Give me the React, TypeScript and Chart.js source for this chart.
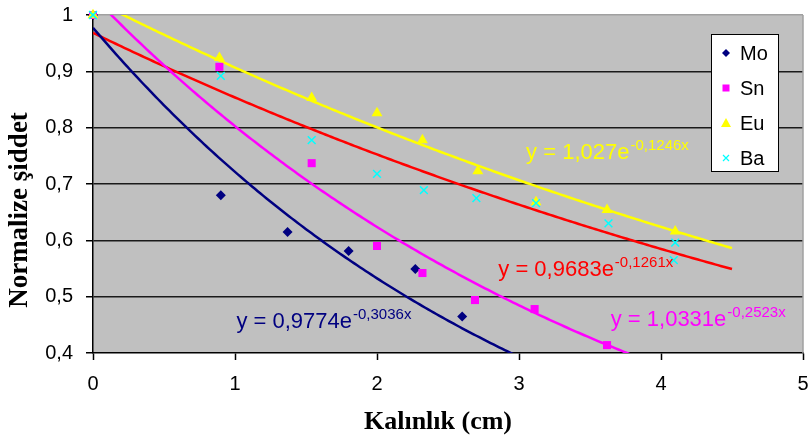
import React, { useEffect, useRef } from "react";
import { Chart, registerables } from "chart.js";
Chart.register(...registerables);

// ---- data ----
const moX = [0, 0.9, 1.37, 1.8, 2.27, 2.6];
const moY = [1, 0.68, 0.615, 0.581, 0.549, 0.465];
const snX = [0, 0.89, 1.54, 2.0, 2.32, 2.69, 3.11, 3.62];
const snY = [1, 0.908, 0.737, 0.59, 0.542, 0.494, 0.478, 0.414];
const euX = [0, 0.89, 1.54, 2.0, 2.32, 2.71, 3.12, 3.62, 4.1];
const euY = [1, 0.924, 0.853, 0.826, 0.778, 0.723, 0.668, 0.654, 0.616];
const baX = [0, 0.9, 1.54, 2.0, 2.33, 2.7, 3.12, 3.63, 4.1, 4.09];
const baY = [1, 0.892, 0.778, 0.718, 0.689, 0.675, 0.666, 0.63, 0.596, 0.565];

const seriesNames = ["Mo", "Sn", "Eu", "Ba"];
// exponential trend lines y = a * e^(b x), as printed on the chart
const trendA = [0.9774, 1.0331, 1.027, 0.9683];
const trendB = [-0.3036, -0.2523, -0.1246, -0.1261];
const trendTextMain = ["y = 0,9774e", "y = 1,0331e", "y = 1,027e", "y = 0,9683e"];
const trendTextExp = ["-0,3036x", "-0,2523x", "-0,1246x", "-0,1261x"];
const trendXRange = [0, 4.5];

const xTickValues = [0, 1, 2, 3, 4, 5];
const xTickLabels = ["0", "1", "2", "3", "4", "5"];
const yTickValues = [0.4, 0.5, 0.6, 0.7, 0.8, 0.9, 1];
const yTickLabels = ["0,4", "0,5", "0,6", "0,7", "0,8", "0,9", "1"];

const xTitle = "Kalınlık (cm)";
const yTitle = "Normalize şiddet";

// ---- styles ----
const markerColors = ["#000080", "#FF00FF", "#FFFF00", "#00FFFF"];
const trendColors = ["#000080", "#FF00FF", "#FFFF00", "#FF0000"];
const markerStyles = ["rectRot", "rect", "triangle", "crossRot"];
const markerRadii = [5, 5.7, 6.3, 5.5];
const markerOrder = [4, 3, 2, 1];
// label anchors in data coordinates (left edge, vertical middle)
const eqAnchors = [
  { x: 1.01, y: 0.455 },
  { x: 3.646, y: 0.458 },
  { x: 3.05, y: 0.755 },
  { x: 2.854, y: 0.547 },
];

function zip(xs: number[], ys: number[]) {
  return xs.map((x, i) => ({ x, y: ys[i] }));
}

function trendPoints(k: number) {
  const pts: { x: number; y: number }[] = [];
  const n = 225;
  for (let i = 0; i <= n; i++) {
    const x = trendXRange[0] + ((trendXRange[1] - trendXRange[0]) * i) / n;
    pts.push({ x, y: trendA[k] * Math.exp(trendB[k] * x) });
  }
  return pts;
}

const SANS = '"Liberation Sans", Arial, sans-serif';
const SERIF = '"Liberation Serif", "Times New Roman", serif';

const decorPlugin = {
  id: "decor",
  beforeDraw(chart: any) {
    const { ctx, chartArea: a } = chart;
    ctx.save();
    ctx.fillStyle = "#C0C0C0";
    ctx.fillRect(a.left, a.top, a.right - a.left, a.bottom - a.top);
    ctx.restore();
  },
  afterDraw(chart: any) {
    const { ctx, chartArea: a, scales } = chart;
    ctx.save();
    // right border
    ctx.strokeStyle = "#A0A0A0";
    ctx.lineWidth = 1.5;
    ctx.beginPath();
    ctx.moveTo(a.right, a.top);
    ctx.lineTo(a.right, a.bottom);
    ctx.stroke();

    // trend equations
    for (let k = 0; k < 4; k++) {
      const px = scales.x.getPixelForValue(eqAnchors[k].x);
      const py = scales.y.getPixelForValue(eqAnchors[k].y);
      ctx.fillStyle = trendColors[k];
      ctx.textBaseline = "middle";
      ctx.textAlign = "left";
      ctx.font = "22px " + SANS;
      ctx.fillText(trendTextMain[k], px, py);
      const w = ctx.measureText(trendTextMain[k]).width;
      ctx.font = "15px " + SANS;
      ctx.fillText(trendTextExp[k], px + w + 1, py - 7);
    }

    // legend
    const bx = a.right - 92;
    const by = a.top + 19;
    const bw = 67;
    const bh = 137;
    ctx.fillStyle = "#FFFFFF";
    ctx.fillRect(bx, by, bw, bh);
    ctx.strokeStyle = "#000000";
    ctx.lineWidth = 1;
    ctx.strokeRect(bx + 0.5, by + 0.5, bw, bh);
    for (let k = 0; k < 4; k++) {
      const cy = by + 19 + k * 35;
      const cx = bx + 15;
      ctx.fillStyle = markerColors[k];
      ctx.strokeStyle = markerColors[k];
      ctx.beginPath();
      if (k === 0) {
        ctx.moveTo(cx, cy - 4);
        ctx.lineTo(cx + 4, cy);
        ctx.lineTo(cx, cy + 4);
        ctx.lineTo(cx - 4, cy);
        ctx.closePath();
        ctx.fill();
      } else if (k === 1) {
        ctx.fillRect(cx - 3.5, cy - 3.5, 7, 7);
      } else if (k === 2) {
        ctx.moveTo(cx, cy - 5);
        ctx.lineTo(cx + 5, cy + 4);
        ctx.lineTo(cx - 5, cy + 4);
        ctx.closePath();
        ctx.fill();
      } else {
        ctx.lineWidth = 1.2;
        ctx.moveTo(cx - 3, cy - 3);
        ctx.lineTo(cx + 3, cy + 3);
        ctx.moveTo(cx + 3, cy - 3);
        ctx.lineTo(cx - 3, cy + 3);
        ctx.stroke();
      }
      ctx.fillStyle = "#000000";
      ctx.font = "20px " + SANS;
      ctx.textBaseline = "middle";
      ctx.fillText(seriesNames[k], bx + 29, cy + 1);
    }

    // axis titles
    ctx.fillStyle = "#000000";
    ctx.font = "bold 26px " + SERIF;
    ctx.textAlign = "center";
    ctx.textBaseline = "middle";
    ctx.fillText(xTitle, 438, 422);
    ctx.font = "bold 27px " + SERIF;
    ctx.translate(20, 210);
    ctx.rotate(-Math.PI / 2);
    ctx.fillText(yTitle, 0, 0);
    ctx.restore();
  },
};

export default function App() {
  const ref = useRef<HTMLCanvasElement | null>(null);
  useEffect(() => {
    if (!ref.current) return;
    const scatterSets = [
      zip(moX, moY),
      zip(snX, snY),
      zip(euX, euY),
      zip(baX, baY),
    ].map((d, k) => ({
      type: "scatter" as const,
      label: seriesNames[k],
      data: d,
      order: markerOrder[k],
      showLine: false,
      pointStyle: markerStyles[k],
      pointRadius: markerRadii[k],
      pointBackgroundColor: markerColors[k],
      pointBorderColor: markerColors[k],
      pointBorderWidth: k === 3 ? 1.5 : 0,
      clip: false as any,
    }));
    const trendSets = [0, 1, 2, 3].map((k) => ({
      type: "line" as const,
      label: seriesNames[k] + " trend",
      data: trendPoints(k),
      order: 10 + k,
      borderColor: trendColors[k],
      borderWidth: 2.5,
      pointRadius: 0,
      fill: false,
      tension: 0,
      clip: 0,
    }));

    const chart = new Chart(ref.current, {
      type: "scatter",
      data: { datasets: [...scatterSets, ...trendSets] as any },
      options: {
        animation: false,
        responsive: false,
        devicePixelRatio: 1,
        layout: { padding: { left: 0, top: 15, right: 4, bottom: 0 } },
        plugins: { legend: { display: false }, tooltip: { enabled: false } },
        scales: {
          x: {
            type: "linear",
            min: 0,
            max: 5,
            afterBuildTicks: (s: any) => {
              s.ticks = xTickValues.map((v) => ({ value: v }));
            },
            afterFit: (s: any) => {
              s.height = 88;
              s.paddingLeft = 0;
              s.paddingRight = 0;
            },
            ticks: {
              callback: (_v: any, i: number) => xTickLabels[i],
              color: "#000000",
              font: { family: SANS, size: 20 },
              padding: 12,
              maxRotation: 0,
              autoSkip: false,
            },
            grid: {
              drawOnChartArea: false,
              drawTicks: true,
              tickLength: 7,
              tickColor: "#000000",
              tickWidth: 1.5,
            },
            border: { display: true, color: "#000000", width: 1.5 },
          },
          y: {
            type: "linear",
            min: 0.4,
            max: 1,
            afterBuildTicks: (s: any) => {
              s.ticks = yTickValues.map((v) => ({ value: v }));
            },
            afterFit: (s: any) => {
              s.width = 93;
              s.paddingTop = 0;
              s.paddingBottom = 0;
            },
            ticks: {
              callback: (_v: any, i: number) => yTickLabels[i],
              color: "#000000",
              font: { family: SANS, size: 20 },
              padding: 13,
              autoSkip: false,
            },
            grid: {
              drawOnChartArea: true,
              tickLength: 7,
              color: (c: any) =>
                c.tick && c.tick.value === 1
                  ? "#A0A0A0"
                  : c.tick && c.tick.value === 0.4
                  ? "rgba(0,0,0,0)"
                  : "#1A1A1A",
              lineWidth: 1.5,
              tickColor: "#000000",
              tickWidth: 1.5,
            },
            border: { display: true, color: "#000000", width: 1.5 },
          },
        },
      },
      plugins: [decorPlugin],
    });
    return () => chart.destroy();
  }, []);

  return (
    <div style={{ position: "absolute", left: 0, top: 0, width: 810, height: 441, background: "#FFFFFF" }}>
      <canvas ref={ref} width={810} height={441} style={{ display: "block" }} />
    </div>
  );
}
